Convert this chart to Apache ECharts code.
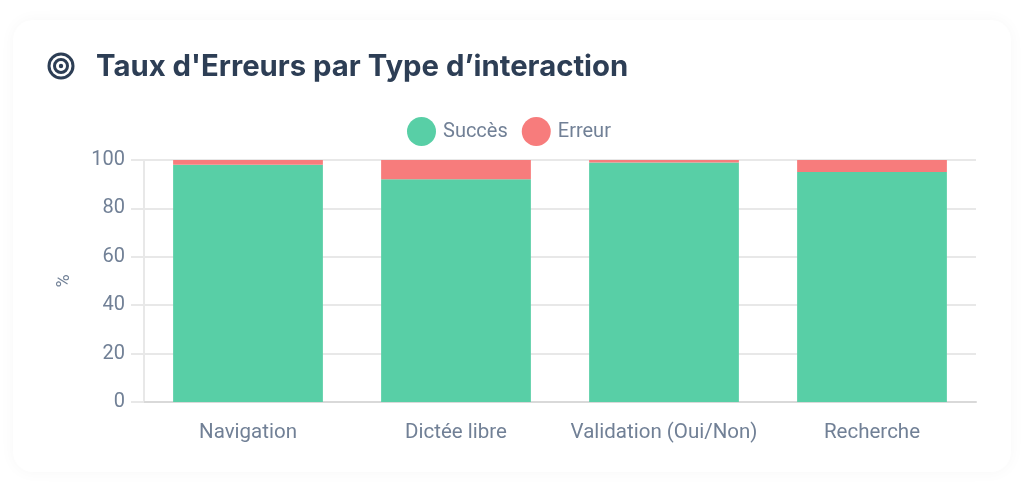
<!DOCTYPE html>
<html><head><meta charset="utf-8">
<style>html,body{margin:0;padding:0;background:#fff}#c{width:1024px;height:484px}</style>
<script src="https://cdn.jsdelivr.net/npm/echarts@6/dist/echarts.min.js"></script>
</head><body><div id="c"></div>
<script>
const categories = ['Navigation', 'Dictée libre', 'Validation (Oui/Non)', 'Recherche'];
const succes = [98, 92, 99, 95];
const erreur = [2, 8, 1, 5];
const yTicks = { min: 0, max: 100, interval: 20 };
const titleText = "Taux d'Erreurs par Type d’interaction";
const muted = '#718096', grid = '#e8e8e8';
const chart = echarts.init(document.getElementById('c'), null, { renderer: 'canvas' });
chart.setOption({
  animation: false,
  backgroundColor: '#fff',
  textStyle: { fontFamily: 'Roboto' },
  graphic: [
    { type: 'rect', z: -10, shape: { x: 13, y: 20, width: 998, height: 452, r: 20 },
      style: { fill: '#fff', shadowBlur: 16, shadowColor: 'rgba(0,0,0,0.035)', shadowOffsetY: 0 } },
    { type: 'circle', shape: { cx: 61, cy: 66, r: 12 }, style: { fill: 'none', stroke: '#2d3e55', lineWidth: 3 } },
    { type: 'circle', shape: { cx: 61, cy: 66, r: 6.5 }, style: { fill: 'none', stroke: '#2d3e55', lineWidth: 3 } },
    { type: 'circle', shape: { cx: 61, cy: 66, r: 2.2 }, style: { fill: '#2d3e55' } },
    { type: 'text', x: 96, y: 67, style: { text: titleText, fill: '#2d3e55', font: '700 29.3px Inter', textVerticalAlign: 'middle' } }
  ],
  legend: {
    top: 112, left: 402, itemWidth: 29, itemHeight: 29, itemGap: 14, icon: 'circle',
    textStyle: { color: muted, fontSize: 20, fontFamily: 'Roboto', padding: [0, 0, 0, 2] },
    data: ['Succès', 'Erreur']
  },
  grid: { left: 144, right: 48, top: 160, bottom: 82 },
  xAxis: {
    type: 'category', data: categories,
    axisLine: { lineStyle: { color: '#d9d9d9', width: 2 } },
    axisTick: { show: false },
    axisLabel: { color: muted, fontSize: 20.5, margin: 20, interval: 0, fontFamily: 'Roboto' },
    splitLine: { show: false }
  },
  yAxis: {
    type: 'value', min: yTicks.min, max: yTicks.max, interval: yTicks.interval,
    name: '%', nameLocation: 'middle', nameGap: 71, nameRotate: 90,
    nameTextStyle: { color: muted, fontSize: 18, fontFamily: 'Roboto' },
    axisLine: { show: true, lineStyle: { color: grid, width: 2 } },
    axisTick: { show: true, length: 13, lineStyle: { color: grid, width: 2 } },
    axisLabel: { color: muted, fontSize: 20, margin: 19, fontFamily: 'Roboto' },
    splitLine: { lineStyle: { color: grid, width: 2 } }
  },
  series: [
    { name: 'Succès', type: 'bar', stack: 't', data: succes, barWidth: '72%', itemStyle: { color: '#58cfa6' } },
    { name: 'Erreur', type: 'bar', stack: 't', data: erreur, barWidth: '72%', itemStyle: { color: '#f77c7c' } }
  ]
});
</script></body></html>
